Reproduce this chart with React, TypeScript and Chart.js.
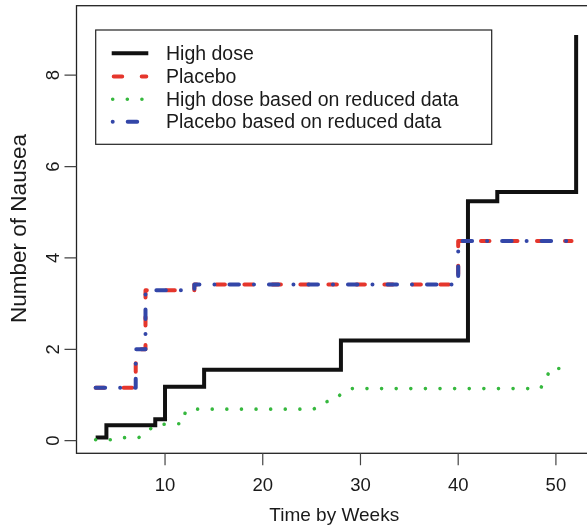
import React, { useEffect, useRef } from "react";
import { Chart, registerables } from "chart.js";

Chart.register(...registerables);

// ---- data ----
const seriesLabels = [
  "High dose",
  "Placebo",
  "High dose based on reduced data",
  "Placebo based on reduced data",
];
const highDoseX = [2.9, 4, 9, 10, 14, 28, 41, 44, 52.07];
const highDoseY = [0.07, 0.34, 0.47, 1.18, 1.55, 2.19, 5.24, 5.44, 8.88];
const placeboX = [2.9, 7, 8, 13, 40, 51.6];
const placeboY = [1.16, 2.0, 3.29, 3.42, 4.37, 4.37];
const reducedHighX = [2.9, 4.8, 5.5, 7.3, 9.0, 10.3, 11.8, 12.1, 13.2, 25.2, 26.3, 27.4, 28.2, 29.1, 48.4, 49.0, 49.4, 51.2];
const reducedHighY = [0.02, 0.02, 0.066, 0.066, 0.34, 0.37, 0.37, 0.65, 0.69, 0.69, 0.84, 0.9, 1.06, 1.14, 1.14, 1.34, 1.58, 1.58];
const reducedPlaceboX = [2.9, 7, 8, 13, 40, 51.6];
const reducedPlaceboY = [1.16, 2.0, 3.29, 3.42, 4.37, 4.37];
const xTicks = [10, 20, 30, 40, 50];
const yTicks = [0, 2, 4, 6, 8];
const xTitle = "Time by Weeks";
const yTitle = "Number of Nausea";

const FONT = '"Liberation Sans", Arial, Helvetica, sans-serif';
const COLORS = ["#111111", "#e5362c", "#36b83e", "#3346a8"];
const WIDTHS = [4, 4, 3.6, 4];
const DASHES: number[][] = [[], [8.5, 19.5], [0.01, 14.6], [9.5, 15, 0.01, 15]];
const LEGEND_DASHES: number[][] = [[], [8.5, 19.5], [0.01, 14.6], [0.01, 15, 9.5, 15]];

const toPts = (xs: number[], ys: number[]) => xs.map((x, i) => ({ x, y: ys[i] }));

const decor = {
  id: "decor",
  afterDraw(chart: any) {
    const { ctx, chartArea: a, scales } = chart;
    const xs = scales.x;
    const ys = scales.y;
    ctx.save();
    // box
    ctx.strokeStyle = "#222";
    ctx.lineWidth = 1.3;
    ctx.setLineDash([]);
    ctx.strokeRect(a.left, a.top, a.right - a.left, a.bottom - a.top);
    // ticks
    ctx.strokeStyle = "#444";
    ctx.lineWidth = 1.2;
    ctx.beginPath();
    xTicks.forEach((v) => {
      const px = xs.getPixelForValue(v);
      ctx.moveTo(px, a.bottom);
      ctx.lineTo(px, a.bottom + 12);
    });
    yTicks.forEach((v) => {
      const py = ys.getPixelForValue(v);
      ctx.moveTo(a.left - 12, py);
      ctx.lineTo(a.left, py);
    });
    ctx.stroke();
    // tick labels
    ctx.fillStyle = "#1a1a1a";
    ctx.font = `18.5px ${FONT}`;
    ctx.textAlign = "center";
    ctx.textBaseline = "alphabetic";
    xTicks.forEach((v) => {
      ctx.fillText(String(v), xs.getPixelForValue(v), a.bottom + 37.2);
    });
    yTicks.forEach((v) => {
      ctx.save();
      ctx.translate(a.left - 17.5, ys.getPixelForValue(v));
      ctx.rotate(-Math.PI / 2);
      ctx.fillText(String(v), 0, 0);
      ctx.restore();
    });
    // titles
    ctx.font = `19px ${FONT}`;
    ctx.fillText(xTitle, (a.left + a.right) / 2 - 1.5, a.bottom + 67.7);
    ctx.save();
    ctx.font = `22.5px ${FONT}`;
    ctx.translate(26, (a.top + a.bottom) / 2 - 1);
    ctx.rotate(-Math.PI / 2);
    ctx.fillText(yTitle, 0, 0);
    ctx.restore();
    // legend
    const lx = 95.7, ly = 30, lw = 396, lh = 114.3;
    ctx.fillStyle = "#ffffff";
    ctx.fillRect(lx, ly, lw, lh);
    ctx.strokeStyle = "#222";
    ctx.lineWidth = 1.2;
    ctx.strokeRect(lx, ly, lw, lh);
    const rows = [53.3, 76.4, 99.2, 121.8];
    const starts = [111.7, 113.7, 112.7, 112.7];
    const ends = [148.3, 146.3, 146.3, 146.3];
    seriesLabels.forEach((lab, i) => {
      ctx.save();
      ctx.strokeStyle = COLORS[i];
      ctx.lineWidth = WIDTHS[i];
      ctx.lineCap = i === 0 ? "butt" : "round";
      ctx.setLineDash(LEGEND_DASHES[i]);
      ctx.beginPath();
      ctx.moveTo(starts[i], rows[i]);
      ctx.lineTo(ends[i], rows[i]);
      ctx.stroke();
      ctx.restore();
      ctx.fillStyle = "#1a1a1a";
      ctx.font = `19.5px ${FONT}`;
      ctx.textAlign = "left";
      ctx.textBaseline = "middle";
      ctx.fillText(lab, 166, rows[i] + 1);
    });
    ctx.restore();
  },
};

export default function App() {
  const ref = useRef<HTMLCanvasElement | null>(null);
  useEffect(() => {
    if (!ref.current) return;
    const pointSets = [
      toPts(highDoseX, highDoseY),
      toPts(placeboX, placeboY),
      toPts(reducedHighX, reducedHighY),
      toPts(reducedPlaceboX, reducedPlaceboY),
    ];
    const stepped = [true, true, false, true];
    const chart = new Chart(ref.current, {
      type: "line",
      data: {
        datasets: seriesLabels.map((label, i) => ({
          label,
          data: pointSets[i],
          borderColor: COLORS[i],
          backgroundColor: COLORS[i],
          borderWidth: WIDTHS[i],
          borderDash: DASHES[i],
          borderCapStyle: i === 0 ? "butt" : "round",
          borderJoinStyle: i === 0 ? "miter" : "round",
          pointRadius: 0,
          stepped: stepped[i],
          tension: 0,
          fill: false,
          order: 4 - i,
        })),
      } as any,
      options: {
        animation: false,
        responsive: false,
        devicePixelRatio: 1,
        layout: { padding: { top: 5.7, right: 1, left: 0, bottom: 0 } },
        plugins: { legend: { display: false }, tooltip: { enabled: false } },
        scales: {
          x: {
            type: "linear",
            min: 0.94,
            max: 54,
            grid: { display: false },
            border: { display: false },
            ticks: { display: false },
            afterFit: (s: any) => {
              s.height = 74.7;
            },
          },
          y: {
            type: "linear",
            min: -0.276,
            max: 9.52,
            grid: { display: false },
            border: { display: false },
            ticks: { display: false },
            afterFit: (s: any) => {
              s.width = 76.5;
            },
          },
        },
      } as any,
      plugins: [decor],
    });
    return () => chart.destroy();
  }, []);
  return (
    <div style={{ position: "fixed", left: 0, top: 0, width: 596, height: 528, overflow: "hidden", background: "#fff" }}>
      <canvas ref={ref} width={596} height={528} style={{ width: 596, height: 528, display: "block" }} />
    </div>
  );
}
